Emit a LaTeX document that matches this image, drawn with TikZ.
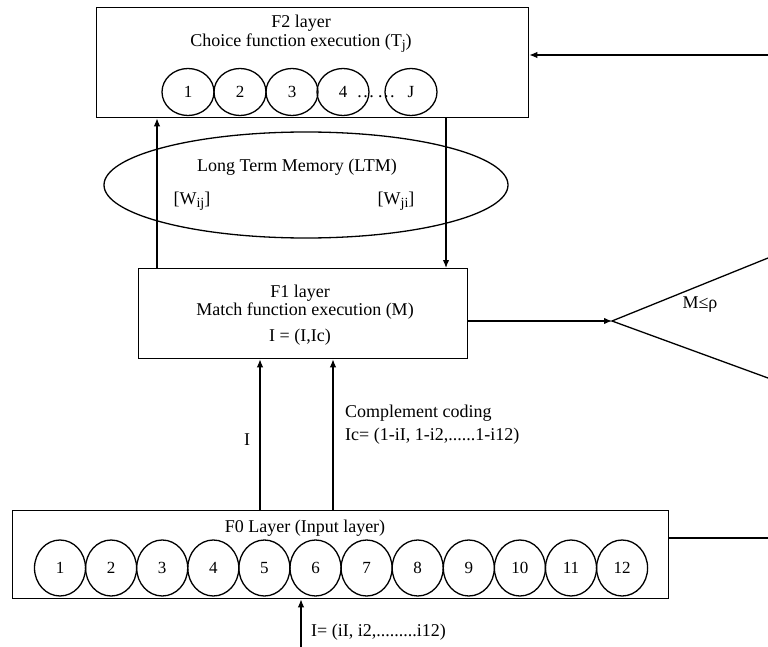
\documentclass[tikz,border=0pt]{standalone}
\usepackage{fontspec}
\setmainfont{Liberation Serif}
\usetikzlibrary{shapes.geometric,arrows.meta}
\newcommand{\lowidx}[1]{\raisebox{-0.35ex}{\fontsize{14}{14}\selectfont #1}}
\begin{document}
\begin{tikzpicture}[x=1pt,y=-1pt,
  lw/.style={line width=1.3pt},
  layerbox/.style={draw,lw,anchor=north west,inner sep=0pt},
  cell/.style={draw,lw,ellipse,inner sep=0pt,font=\fontsize{17}{17}\selectfont},
  txt/.style={font=\fontsize{18}{20}\selectfont,inner sep=0pt},
  arr/.style={lw,-{Latex[length=8pt,width=6.5pt]}},
  conn/.style={lw}]
\useasboundingbox (0,0) rectangle (768,647);

% F2 layer
\node[layerbox,minimum width=432pt,minimum height=110pt] (f2) at (96,7) {};
\node[txt] (f2a) at (301,23) {F2 layer};
\node[txt] (f2b) at (301,43) {Choice function execution (T\lowidx{j})};
\foreach \i/\x in {1/188,2/240,3/292,4/343}
  \node[cell,minimum width=52pt,minimum height=47pt] (f2c\i) at (\x,92) {\i};
\node[cell,minimum width=52pt,minimum height=47pt] (f2cJ) at (411,92) {J};
\node[txt] (dots) at (376,97) {\dots\,\dots};

% Long term memory
\node[draw,lw,ellipse,minimum width=404pt,minimum height=106pt] (ltm) at (306,185) {};
\node[txt] (ltma) at (297,167) {Long Term Memory (LTM)};
\node[txt] (wij) at (192,201) {[W\lowidx{ij}]};
\node[txt] (wji) at (396,201) {[W\lowidx{ji}]};

% F1 layer
\node[layerbox,minimum width=329pt,minimum height=90pt] (f1) at (138,268) {};
\node[txt] (f1a) at (300,293) {F1 layer};
\node[txt] (f1b) at (305,311) {Match function execution (M)};
\node[txt] (f1c) at (300,337) {I = (I,Ic)};

% F0 layer
\node[layerbox,minimum width=656pt,minimum height=88pt] (f0) at (12,510) {};
\node[txt] (f0a) at (305,528) {F0 Layer (Input layer)};
\foreach \i in {1,...,12}
  \node[cell,minimum width=51pt,minimum height=56pt] (f0c\i) at ({60+51.1*(\i-1)},568) {\i};

% vigilance test
\coordinate (tip) at (612,321);
\coordinate (tu) at (768,258);
\coordinate (tl) at (768,378);
\draw[conn] (tu) -- (tip) -- (tl);
\node[txt] (vig) at (700,305) {M≤ρ};
\draw[arr] (f1.east |- tip) -- (tip);

% reset line into F2 and line out of F0
\coordinate (rin) at (768,55);
\draw[arr] (rin) -- (rin -| f2.east);
\coordinate (rout) at (768,538);
\draw[conn] (rout -| f0.east) -- (rout);

% F1 <-> F2
\coordinate (up) at (157,0);
\coordinate (dn) at (446,0);
\draw[arr] (up |- f1.north) -- (up |- f2.south);
\draw[arr] (dn |- f2.south) -- (dn |- f1.north);

% F0 -> F1
\coordinate (in1) at (260,0);
\coordinate (in2) at (333,0);
\draw[arr] (in1 |- f0.north) -- (in1 |- f1.south);
\draw[arr] (in2 |- f0.north) -- (in2 |- f1.south);
\node[txt] (lI) at (247,440) {I};
\node[txt,anchor=west] (cc1) at (345,413) {Complement coding};
\node[txt,anchor=west] (cc2) at (345,436) {Ic= (1-iI, 1-i2,......1-i12)};

% input
\coordinate (src) at (301,647);
\draw[arr] (src) -- (src |- f0.south);
\node[txt,anchor=west] (inp) at (311,632) {I= (iI, i2,.........i12)};
\end{tikzpicture}
\end{document}
